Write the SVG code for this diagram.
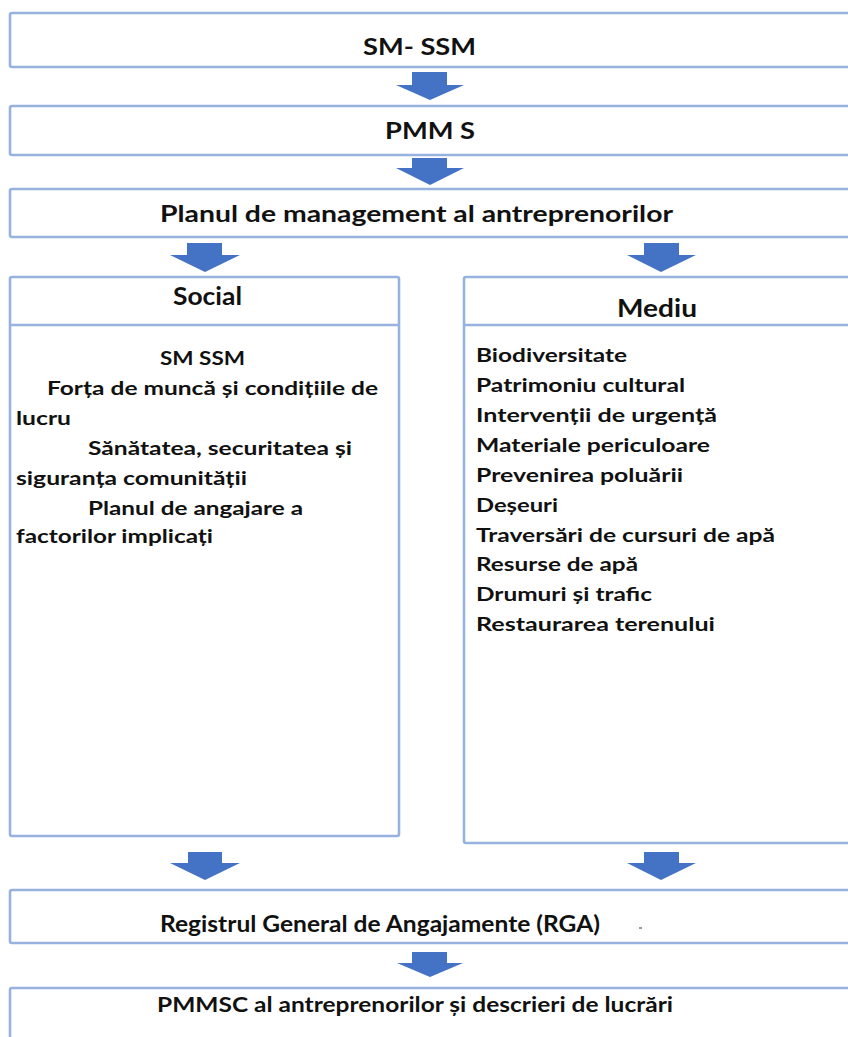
<svg xmlns="http://www.w3.org/2000/svg" width="848" height="1037" viewBox="0 0 848 1037">
<style>
.box{fill:#fff;stroke:#98B2E0;stroke-width:2.6}
.div{stroke:#98B2E0;stroke-width:2.6}
.arr{fill:#4472C4}
text{font-family:Lato,"Open Sans","Liberation Sans",sans-serif;font-weight:bold;fill:#111}
.t{font-size:23px}
.c{font-size:18px}
.m{font-size:19px}
</style>
<rect width="848" height="1037" fill="#fff"/>
<g id="connectors">
<path class="arr" d="M412,72 H447 V85 H464 L430,100 L396,85 H412 Z"/>
<path class="arr" d="M412,158 H447 V168 H464 L430,185 L396,168 H412 Z"/>
<path class="arr" d="M187,243 H222 V255 H240 L205,272 L170,255 H187 Z"/>
<path class="arr" d="M644,243 H679 V255 H696 L661,272 L627,255 H644 Z"/>
<path class="arr" d="M188,852 H222 V863 H240 L205,880 L170,863 H188 Z"/>
<path class="arr" d="M644,852 H679 V863 H696 L661,880 L627,863 H644 Z"/>
<path class="arr" d="M412,952 H447 V963 H463 L430,977 L397,963 H412 Z"/>
</g>
<g id="n1">
<rect class="box" x="10" y="13" width="850" height="54" rx="2"/>
<text class="t" x="363" y="55" textLength="113" lengthAdjust="spacingAndGlyphs">SM- SSM</text>
</g>
<g id="n2">
<rect class="box" x="10" y="106" width="850" height="49" rx="2"/>
<text class="t" x="385" y="139" textLength="90" lengthAdjust="spacingAndGlyphs">PMM S</text>
</g>
<g id="n3">
<rect class="box" x="10" y="189" width="850" height="48" rx="2"/>
<text class="t" x="160" y="222" textLength="513" lengthAdjust="spacingAndGlyphs">Planul de management al antreprenorilor</text>
</g>
<g id="social">
<rect class="box" x="10" y="277" width="389" height="559" rx="2"/>
<line class="div" x1="10" y1="325" x2="399" y2="325"/>
<text style="font-size:24px" x="173" y="305" textLength="69" lengthAdjust="spacingAndGlyphs">Social</text>
<text class="c" x="160" y="365" textLength="85" lengthAdjust="spacingAndGlyphs">SM SSM</text>
<text class="c" x="47" y="395" textLength="331" lengthAdjust="spacingAndGlyphs">Forța de muncă și condițiile de</text>
<text class="c" x="16" y="425" textLength="55" lengthAdjust="spacingAndGlyphs">lucru</text>
<text class="c" x="88" y="455" textLength="264" lengthAdjust="spacingAndGlyphs">Sănătatea, securitatea și</text>
<text class="c" x="16" y="485" textLength="231" lengthAdjust="spacingAndGlyphs">siguranța comunității</text>
<text class="c" x="88" y="515" textLength="215" lengthAdjust="spacingAndGlyphs">Planul de angajare a</text>
<text class="c" x="16" y="543" textLength="197" lengthAdjust="spacingAndGlyphs">factorilor implicați</text>
</g>
<g id="mediu">
<rect class="box" x="464" y="277" width="400" height="566" rx="2"/>
<line class="div" x1="464" y1="325" x2="860" y2="325"/>
<text style="font-size:25px" x="617" y="317" textLength="80" lengthAdjust="spacingAndGlyphs">Mediu</text>
<text class="m" x="476" y="362" textLength="151" lengthAdjust="spacingAndGlyphs">Biodiversitate</text>
<text class="m" x="476" y="392" textLength="209" lengthAdjust="spacingAndGlyphs">Patrimoniu cultural</text>
<text class="m" x="476" y="422" textLength="241" lengthAdjust="spacingAndGlyphs">Intervenții de urgență</text>
<text class="m" x="476" y="452" textLength="234" lengthAdjust="spacingAndGlyphs">Materiale periculoare</text>
<text class="m" x="476" y="482" textLength="207" lengthAdjust="spacingAndGlyphs">Prevenirea poluării</text>
<text class="m" x="476" y="512" textLength="82" lengthAdjust="spacingAndGlyphs">Deșeuri</text>
<text class="m" x="476" y="542" textLength="299" lengthAdjust="spacingAndGlyphs">Traversări de cursuri de apă</text>
<text class="m" x="476" y="571" textLength="162" lengthAdjust="spacingAndGlyphs">Resurse de apă</text>
<text class="m" x="476" y="601" textLength="176" lengthAdjust="spacingAndGlyphs">Drumuri și trafic</text>
<text class="m" x="476" y="631" textLength="239" lengthAdjust="spacingAndGlyphs">Restaurarea terenului</text>
</g>
<g id="rga">
<rect class="box" x="10" y="890" width="850" height="53" rx="2"/>
<text style="font-size:22px" x="160" y="932" textLength="440" lengthAdjust="spacingAndGlyphs">Registrul General de Angajamente (RGA)</text>
<rect x="639" y="927" width="3" height="2" fill="#999"/>
</g>
<g id="pmmsc">
<rect class="box" x="10" y="988" width="850" height="60" rx="2"/>
<text style="font-size:21px" x="157" y="1012" textLength="516" lengthAdjust="spacingAndGlyphs">PMMSC al antreprenorilor și descrieri de lucrări</text>
</g>
</svg>
